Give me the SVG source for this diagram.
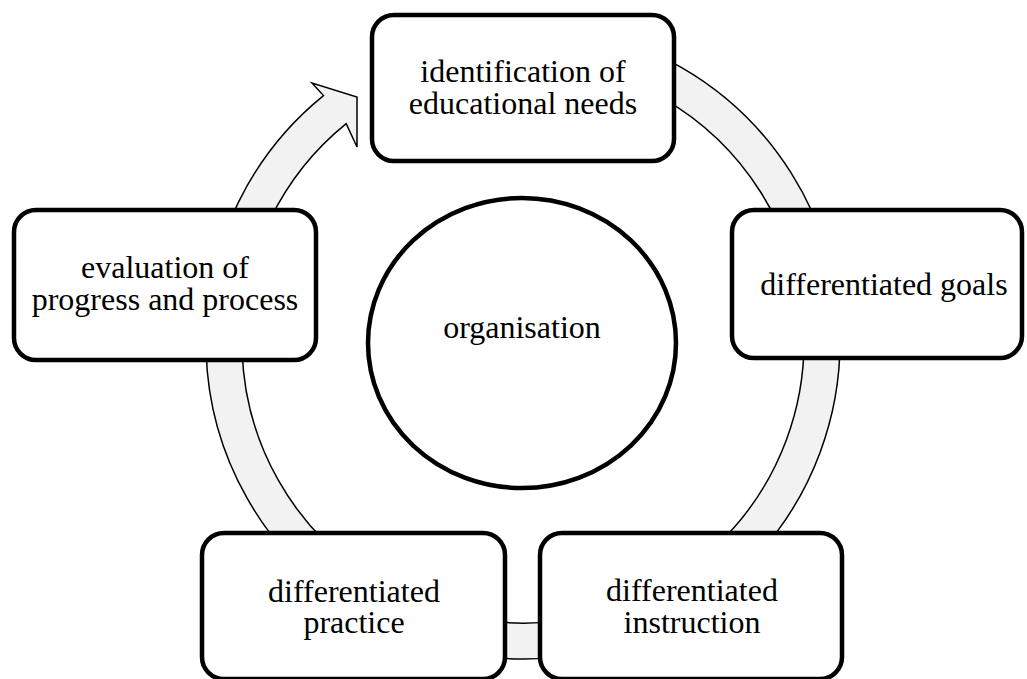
<svg xmlns="http://www.w3.org/2000/svg" width="1027" height="679" viewBox="0 0 1027 679">
<style>
  .box { fill: #ffffff; stroke: #000000; stroke-width: 4.5; }
  .lbl { font-family: "Liberation Serif", "Times New Roman", serif; font-size: 32px; fill: #000000; text-anchor: middle; }
  .ring { fill: #f2f2f2; stroke: #000000; stroke-width: 1.5; stroke-linejoin: miter; }
</style>
<rect width="1027" height="679" fill="#ffffff"/>
<g id="connectors">
  <path class="ring" d="M 550.6 26.2 A 317 317 0 1 1 323.5 95.6 L 312 83 L 357 97 L 357 147 L 346.2 123.6 A 281 281 0 1 0 547.5 62.1 Z"/>
</g>
<g id="node-organisation">
  <ellipse class="box" cx="522" cy="343" rx="154" ry="145"/>
  <text class="lbl" x="522" y="338">organisation</text>
</g>
<g id="node-identification">
  <rect class="box" x="372" y="15" width="302" height="146" rx="22"/>
  <text class="lbl" x="523" y="82">identification of</text>
  <text class="lbl" x="523" y="114">educational needs</text>
</g>
<g id="node-goals">
  <rect class="box" x="732" y="210" width="290" height="148" rx="22"/>
  <text class="lbl" x="884" y="295">differentiated goals</text>
</g>
<g id="node-instruction">
  <rect class="box" x="540" y="533" width="302" height="146" rx="22"/>
  <text class="lbl" x="692" y="601">differentiated</text>
  <text class="lbl" x="692" y="633">instruction</text>
</g>
<g id="node-practice">
  <rect class="box" x="202" y="533" width="303" height="146" rx="22"/>
  <text class="lbl" x="354" y="602">differentiated</text>
  <text class="lbl" x="354" y="633">practice</text>
</g>
<g id="node-evaluation">
  <rect class="box" x="14" y="210" width="302" height="150" rx="22"/>
  <text class="lbl" x="165" y="278">evaluation of</text>
  <text class="lbl" x="165" y="310">progress and process</text>
</g>
</svg>
